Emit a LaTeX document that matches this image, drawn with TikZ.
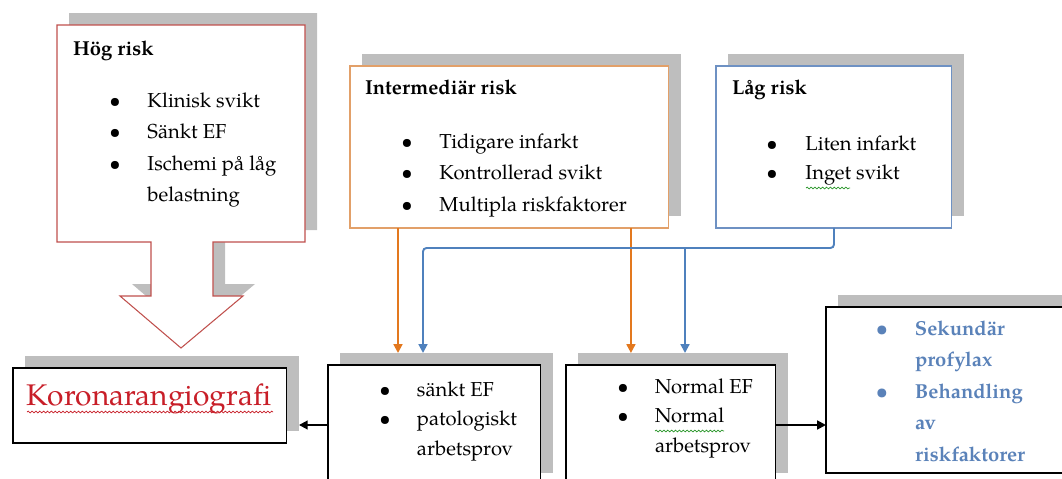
\documentclass[tikz,border=0pt]{standalone}
\usepackage{fontspec}
\setmainfont{TeX Gyre Pagella}
\usetikzlibrary{calc,arrows.meta,decorations.pathmorphing}

\definecolor{hogred}{RGB}{192,80,77}
\definecolor{midorange}{RGB}{226,160,105}
\definecolor{lowblue}{RGB}{110,145,195}
\definecolor{linkorange}{RGB}{227,120,30}
\definecolor{linkblue}{RGB}{79,129,189}
\definecolor{shadowgray}{RGB}{190,190,190}
\definecolor{korred}{RGB}{200,30,40}
\definecolor{sekblue}{RGB}{90,130,185}
\definecolor{spellgreen}{RGB}{40,150,40}

\newcommand{\bul}{\makebox[0pt]{\textbullet}}
\newcommand{\riskbox}[5]{%
  \node[shade, minimum width=#3, minimum height=#4] (#1S) at ($(#2)+(12,-12)$) {};
  \node[frame, #5, minimum width=#3, minimum height=#4] (#1) at (#2) {};
}

\begin{document}
\begin{tikzpicture}[x=0.02cm, y=-0.02cm,
    every node/.style={inner sep=0pt, outer sep=0pt},
    frame/.style={draw, fill=white, line width=0.6pt, anchor=north west},
    shade/.style={fill=shadowgray, anchor=north west},
    head/.style={font=\fontsize{11.5}{18}\selectfont\bfseries, anchor=base west},
    itemlist/.style={font=\fontsize{11.5}{#1}\selectfont, anchor=base west},
    link/.style={line width=1.1pt, -{Triangle[length=5pt,width=5pt]}},
    squiggle/.style={line width=0.4pt, decorate,
      decoration={snake, amplitude=0.5pt, segment length=2.2pt}}]
  \useasboundingbox (0,0) rectangle (1062,478);
  \clip (0,0) rectangle (1062,478);

  % hög risk callout
  \fill[shadowgray, shift={(12,-12)}] (57,25) -- (305,25) -- (305,242) -- (213,242) -- (213,296)
    -- (243,296) -- (181,348) -- (120,296) -- (151,296) -- (151,242) -- (57,242) -- cycle;
  \draw[hogred, fill=white, line width=0.6pt] (57,25) -- (305,25) -- (305,242) -- (213,242) -- (213,296)
    -- (243,296) -- (181,348) -- (120,296) -- (151,296) -- (151,242) -- (57,242) -- cycle;
  \node[head] (hogT) at (73,55) {Hög risk};
  \node[itemlist=18pt] (hogL) at (115,107) {\begin{tabular}[t]{@{}p{0.65cm}@{}l@{}}
    \bul & Klinisk svikt\\ \bul & Sänkt EF\\ \bul & Ischemi på låg\\ & belastning\end{tabular}};

  % risk boxes
  \riskbox{mid}{350,66}{6.38cm}{3.24cm}{draw=midorange}
  \riskbox{low}{716,66}{4.72cm}{3.24cm}{draw=lowblue}
  \node[head] (midT) at (365,94) {Intermediär risk};
  \node[itemlist=18pt] (midL) at (407,148) {\begin{tabular}[t]{@{}p{0.65cm}@{}l@{}}
    \bul & Tidigare infarkt\\ \bul & Kontrollerad svikt\\ \bul & Multipla riskfaktorer\end{tabular}};
  \node[head] (lowT) at (732,94) {Låg risk};
  \node[itemlist=17pt] (lowL) at (772,150) {\begin{tabular}[t]{@{}p{0.67cm}@{}l@{}}
    \bul & Liten infarkt\\ \bul & Inget svikt\end{tabular}};

  % outcome boxes
  \riskbox{kor}{13,368}{5.48cm}{1.5cm}{}
  \riskbox{sank}{328,365}{4.26cm}{2.4cm}{}
  \riskbox{norm}{566,365}{4.2cm}{2.4cm}{}
  \riskbox{sek}{826,307}{5.2cm}{3.32cm}{}
  \node[font=\fontsize{17}{20}\selectfont, text=korred, anchor=base west] (korT) at (27,405) {Koronarangiografi};
  \node[itemlist=17pt] (sankL) at (385,396) {\begin{tabular}[t]{@{}p{0.64cm}@{}l@{}}
    \bul & sänkt EF\\ \bul & patologiskt\\ & arbetsprov\end{tabular}};
  \node[itemlist=16.8pt] (normL) at (623,393) {\begin{tabular}[t]{@{}p{0.64cm}@{}l@{}}
    \bul & Normal EF\\ \bul & Normal\\ & arbetsprov\end{tabular}};
  \node[font=\fontsize{11.5}{18}\selectfont\bfseries, text=sekblue, anchor=base west] (sekL) at (882,335)
    {\begin{tabular}[t]{@{}p{0.66cm}@{}l@{}}
    \bul & Sekundär\\ & profylax\\ \bul & Behandling\\ & av\\ & riskfaktorer\end{tabular}};

  % spelling marks
  \draw[squiggle, korred] (27,412) -- (273,412);
  \draw[squiggle, spellgreen] (806,188) -- (850,188);
  \draw[squiggle, spellgreen] (655,431) -- (724,431);

  % connectors
  \coordinate (o1) at ($(mid.south west)+(48,0)$);
  \coordinate (o2) at ($(mid.south east)+(-38,0)$);
  \coordinate (bj) at (423,248);
  \coordinate (bk) at (685,248);
  \draw[link, linkorange] (o1) -- (o1 |- sankS.north);
  \draw[link, linkorange] (o2) -- (o2 |- normS.north);
  \draw[link, linkblue, rounded corners=2pt] (low.south) |- (bj) -- (bj |- sankS.north);
  \draw[link, linkblue] (bk) -- (bk |- normS.north);
  \draw[link] (sank.west) -- (sank.west -| korS.east);
  \draw[link] (norm.east) -- (norm.east -| sek.west);
\end{tikzpicture}
\end{document}
